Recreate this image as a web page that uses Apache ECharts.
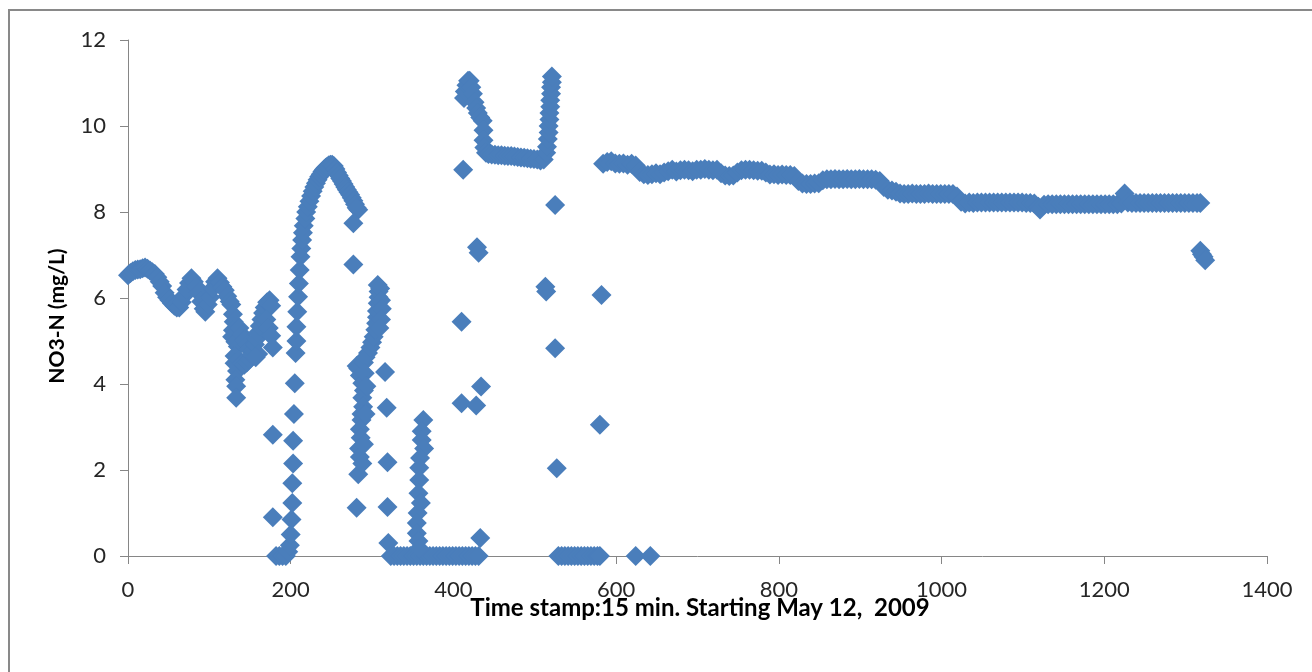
<!DOCTYPE html>
<html>
<head>
<meta charset="utf-8">
<script src="https://cdn.jsdelivr.net/npm/echarts@6/dist/echarts.min.js"></script>
<style>
html,body{margin:0;padding:0;background:#fff;}
#chart{width:1312px;height:672px;}
</style>
</head>
<body>
<div id="chart"></div>
<script>
// Axis ticks
const xTicks = [0, 200, 400, 600, 800, 1000, 1200, 1400];
const yTicks = [0, 2, 4, 6, 8, 10, 12];
const xTitle = 'Time stamp:15 min. Starting May 12,  2009';
const yTitle = 'NO3-N (mg/L)';

// [time stamp, NO3-N mg/L]
const earlyWiggle = [
  [0,6.53],[3,6.58],[6,6.62],[9,6.65],[12,6.66],[15,6.67],[18,6.69],[21,6.71],[24,6.68],[27,6.64],
  [30,6.6],[33,6.56],[36,6.48],[39,6.38],[42,6.28],[45,6.12],[48,6.02],[51,5.95],[54,5.88],[57,5.82],
  [60,5.78],[63,5.78],[66,5.9],[69,6.05],[72,6.2],[75,6.35],[78,6.46],[81,6.38],[84,6.26],[87,6.12],
  [90,5.92],[93,5.75],[95,5.68],[98,5.85],[101,6.02],[104,6.22],[107,6.38],[110,6.46],[113,6.36],[116,6.26],
  [119,6.18],[122,6.04],[125,5.92],[127,5.85]
];
const earlyCluster = [
  [129,5.62],[130,5.45],[129,5.25],[128,5.1],[132,4.98],[135,4.87],[131,4.65],[131,4.48],[134,4.3],[132,4.1],
  [133,3.95],[133,3.68],[137,5.3],[140,5.15],[143,5.02],[146,4.92],[149,4.8],[137,4.55],[140,4.48],[143,4.45],
  [146,4.5],[149,4.58],[152,4.68],[154,4.78],[156,4.92],[158,5.05],[160,5.2],[162,5.35],[164,5.5],[166,5.65],
  [168,5.78],[171,5.9],[174,5.95],[176,5.82],[170,5.5],[173,5.3],[176,5.12],[178,4.85],[160,4.7],[157,4.62],
  [178,2.82],[178,0.9],[182,0],[186,0],[190,0],[194,0],[197,0.1]
];
const firstRise = [
  [199,0.25],[200,0.5],[201,0.85],[202,1.23],[202,1.69],[203,2.15],[203,2.68],[204,3.3],[205,4.02],[206,4.72],
  [207,5.0],[207,5.33],[208,5.68],[209,6.03],[210,6.34],[211,6.65],[212,6.96],[213,7.15],[214,7.35],[215,7.52],
  [216,7.68],[218,7.85],[219,8.0],[221,8.12],[223,8.25],[225,8.37],[227,8.48],[229,8.58],[231,8.67],[233,8.75],
  [235,8.82],[237,8.88],[239,8.94],[241,8.99],[243,9.03],[245,9.06],[247,9.09],[249,9.1],[251,9.1],[253,9.07],
  [255,9.0],[257,8.92],[259,8.85],[261,8.78],[263,8.72],[265,8.65],[267,8.58],[269,8.52],[271,8.46],[273,8.4],
  [275,8.33],[277,8.26],[279,8.18],[281,8.1],[283,8.05],[277,7.74],[277,6.78]
];
const secondCluster = [
  [283,4.36],[281,4.42],[285,4.2],[288,4.02],[290,3.85],[288,3.68],[289,3.47],[287,3.3],[287,3.16],[285,2.95],
  [286,2.75],[284,2.5],[285,2.3],[283,1.9],[281,1.12],[290,4.5],[292,4.62],[295,4.72],[298,4.85],[300,4.97],
  [302,5.1],[304,5.26],[305,5.41],[306,5.55],[306,5.7],[307,5.88],[308,6.02],[308,6.15],[307,6.3],[310,6.22],
  [311,5.95],[312,5.75],[311,5.5],[309,5.3],[316,4.28],[318,3.45],[319,2.18],[319,1.14],[320,0.3],
  [291,4.25],[293,3.95],[292,3.3],[290,2.6],[288,2.15]
];
const zeroStretch = [
  [323,0],[327,0],[331,0],[335,0],[339,0],[343,0],[347,0],[351,0],[355,0],[359,0],
  [363,0],[367,0],[371,0],[375,0],[379,0],[383,0],[387,0],[391,0],[395,0],[399,0],
  [403,0],[407,0],[411,0],[415,0],[419,0],[423,0],[427,0],[431,0],
  [363,3.16],[361,2.9],[361,2.7],[364,2.5],[359,2.28],[358,2.05],[358,1.77],[357,1.46],[360,1.23],[356,1.0],
  [355,0.77],[355,0.53],[357,0.35],[358,0.18]
];
const highU = [
  [410,3.55],[410,5.45],[412,8.98],[413,10.65],[414,10.8],[416,10.95],[418,11.05],[420,11.05],[422,10.9],[424,10.75],
  [426,10.55],[428,10.42],[430,10.3],[433,10.2],[436,10.12],[437,9.9],[437,9.67],[438,9.5],[440,9.38],[429,7.18],
  [431,7.05],[428,3.5],[434,3.94],[433,0.42],
  [443,9.35],[447,9.34],[451,9.33],[455,9.32],[459,9.32],[463,9.31],[467,9.3],[471,9.3],[475,9.29],[479,9.28],
  [483,9.27],[487,9.26],[491,9.25],[495,9.24],[499,9.23],[503,9.22],[507,9.2],[511,9.22],[514,9.38],
  [515,9.52],[516,9.7],[517,9.85],[517,10.0],[518,10.15],[518,10.3],[519,10.45],[519,10.6],[520,10.75],[520,10.9],
  [521,11.02],[521,11.15]
];
const afterU = [
  [525,8.16],[513,6.26],[514,6.15],[525,4.83],[527,2.04],
  [529,0],[533,0],[537,0],[541,0],[545,0],[549,0],[553,0],[557,0],[561,0],[565,0],[569,0],[573,0],[577,0],[580,0],
  [580,3.05],[582,6.07],[624,0],[642,0]
];
const plateau = [
  [584,9.12],[589,9.16],[594,9.18],[599,9.13],[604,9.12],[609,9.13],[614,9.1],[619,9.12],[624,9.08],[629,8.93],
  [634,8.88],[639,8.86],[644,8.88],[649,8.9],[654,8.88],[659,8.92],[664,8.95],[669,8.98],[674,8.94],[679,8.97],
  [684,8.98],[689,8.97],[694,8.95],[699,8.98],[704,8.98],[709,9.0],[714,8.98],[719,8.97],[724,8.98],[729,8.9],
  [734,8.85],[739,8.84],[744,8.85],[749,8.92],[754,8.97],[759,8.98],[764,8.98],[769,8.97],[774,8.96],[779,8.96],
  [784,8.92],[789,8.87],[794,8.88],[799,8.86],[804,8.87],[809,8.86],[814,8.86],[819,8.84],[824,8.72],[829,8.66],
  [834,8.65],[839,8.65],[844,8.66],[849,8.67],[854,8.74],[859,8.76],[864,8.76],[869,8.77],[874,8.76],[879,8.76],
  [884,8.77],[889,8.76],[894,8.76],[899,8.77],[904,8.76],[909,8.76],[914,8.76],[919,8.75],[924,8.72],[929,8.58],
  [934,8.52],[939,8.5],[944,8.47],[949,8.43],[954,8.42],[959,8.42],[964,8.43],[969,8.42],[974,8.42],[979,8.42],
  [984,8.43],[989,8.42],[994,8.42],[999,8.42],[1004,8.42],[1009,8.42],[1014,8.42],[1019,8.36],[1024,8.24],[1029,8.2],
  [1034,8.22],[1039,8.21],[1044,8.22],[1049,8.22],[1054,8.22],[1059,8.22],[1064,8.22],[1069,8.22],[1074,8.22],[1079,8.22],
  [1084,8.22],[1089,8.22],[1094,8.22],[1099,8.22],[1104,8.21],[1109,8.21],[1114,8.2],[1119,8.12],[1121,8.06],[1126,8.17],
  [1131,8.18],[1136,8.18],[1141,8.18],[1146,8.18],[1151,8.18],[1156,8.18],[1161,8.18],[1166,8.18],[1171,8.18],[1176,8.18],
  [1181,8.18],[1186,8.18],[1191,8.18],[1196,8.18],[1201,8.18],[1206,8.18],[1211,8.18],[1216,8.18],[1221,8.2],[1225,8.43],
  [1229,8.22],[1234,8.21],[1239,8.21],[1244,8.21],[1249,8.21],[1254,8.21],[1259,8.21],[1264,8.21],[1269,8.21],[1274,8.21],
  [1279,8.21],[1284,8.21],[1289,8.21],[1294,8.21],[1299,8.21],[1304,8.21],[1309,8.21],[1314,8.21],[1318,8.21],
  [1318,7.1],[1320,7.02],[1322,6.96],[1324,6.88]
];

const allPoints = [].concat(earlyWiggle, earlyCluster, firstRise, secondCluster, zeroStretch, highU, afterU, plateau);

const chart = echarts.init(document.getElementById('chart'), null, {renderer: 'canvas'});
const axisColor = '#868686';
const labelFont = 'Lato, "Open Sans", sans-serif';
chart.setOption({
  animation: false,
  backgroundColor: '#ffffff',
  grid: {left: 128, right: 45, top: 40, bottom: 116, containLabel: false},
  xAxis: {
    type: 'value',
    min: xTicks[0], max: xTicks[xTicks.length - 1], interval: xTicks[1] - xTicks[0],
    axisLine: {show: true, lineStyle: {color: axisColor, width: 1}},
    axisTick: {show: true, inside: false, length: 8, lineStyle: {color: axisColor}},
    splitLine: {show: false},
    axisLabel: {margin: 23, fontSize: 22, color: '#262626', fontFamily: labelFont,
                formatter: function (v) { return String(v); }}
  },
  yAxis: {
    type: 'value',
    min: yTicks[0], max: yTicks[yTicks.length - 1], interval: yTicks[1] - yTicks[0],
    axisLine: {show: true, lineStyle: {color: axisColor, width: 1}},
    axisTick: {show: true, inside: false, length: 8, lineStyle: {color: axisColor}},
    splitLine: {show: false},
    axisLabel: {margin: 22, fontSize: 22, color: '#262626', fontFamily: labelFont,
                formatter: function (v) { return String(v); }}
  },
  graphic: [
    {type: 'rect', silent: true, z: -10, shape: {x: 9, y: 10, width: 1400, height: 800},
     style: {fill: 'none', stroke: '#898989', lineWidth: 2}},
    {type: 'text', silent: true, x: 700, y: 608,
     style: {text: xTitle, font: 'bold 24px Lato, "Open Sans", sans-serif', fill: '#000',
             textAlign: 'center', textVerticalAlign: 'middle'}},
    {type: 'text', silent: true, x: 57, y: 316, rotation: Math.PI / 2,
     style: {text: yTitle, font: 'bold 21px Lato, "Open Sans", sans-serif', fill: '#000',
             textAlign: 'center', textVerticalAlign: 'middle'}}
  ],
  series: [{
    type: 'scatter',
    symbol: 'diamond',
    symbolSize: 20,
    itemStyle: {color: '#4a7ebb', opacity: 1},
    data: allPoints
  }]
});
</script>
</body>
</html>
